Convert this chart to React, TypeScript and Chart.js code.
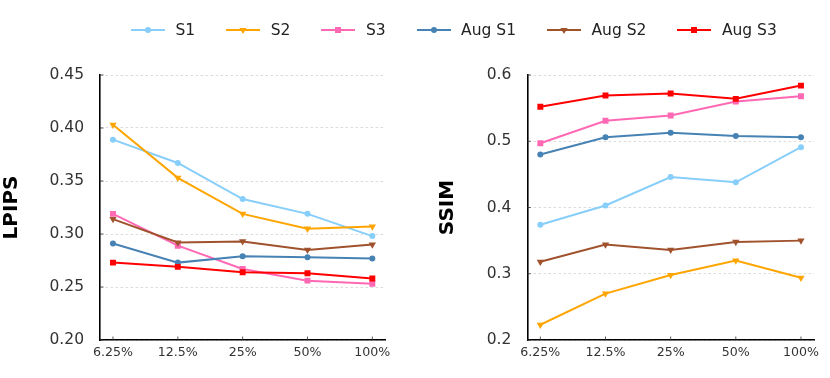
import React, { useEffect, useRef } from 'react';
import { Chart, registerables } from 'chart.js';

Chart.register(...registerables);

// ---------- data ----------
const categories = ['6.25%', '12.5%', '25%', '50%', '100%'];
const seriesNames = ['S1', 'S2', 'S3', 'Aug S1', 'Aug S2', 'Aug S3'];

const lpipsS1 = [0.389, 0.367, 0.333, 0.319, 0.298];
const lpipsS2 = [0.403, 0.353, 0.319, 0.305, 0.307];
const lpipsS3 = [0.319, 0.289, 0.267, 0.256, 0.253];
const lpipsAugS1 = [0.291, 0.273, 0.279, 0.278, 0.277];
const lpipsAugS2 = [0.314, 0.292, 0.293, 0.285, 0.290];
const lpipsAugS3 = [0.273, 0.269, 0.264, 0.263, 0.258];

const ssimS1 = [0.374, 0.403, 0.446, 0.438, 0.491];
const ssimS2 = [0.223, 0.270, 0.298, 0.320, 0.294];
const ssimS3 = [0.497, 0.531, 0.539, 0.560, 0.568];
const ssimAugS1 = [0.480, 0.506, 0.513, 0.508, 0.506];
const ssimAugS2 = [0.318, 0.344, 0.336, 0.348, 0.350];
const ssimAugS3 = [0.552, 0.569, 0.572, 0.564, 0.584];

const lpipsTicks = [0.2, 0.25, 0.3, 0.35, 0.4, 0.45];
const ssimTicks = [0.2, 0.3, 0.4, 0.5, 0.6];

// ---------- styles ----------
const colors = ['#87CEFA', '#FFA500', '#FF69B4', '#4682B4', '#A0522D', '#FF0000'];
const markers = ['circle', 'triangle', 'rect', 'circle', 'triangle', 'rect'];
const FONT = '"DejaVu Sans", "Liberation Sans", sans-serif';

const innerTicks = {
  id: 'innerTicks',
  beforeDatasetsDraw(chart: any) {
    const { ctx, scales, chartArea } = chart;
    ctx.save();
    ctx.strokeStyle = '#333';
    ctx.lineWidth = 0.8;
    const x = scales.x;
    x.ticks.forEach((t: any) => {
      const px = x.getPixelForValue(t.value);
      ctx.beginPath();
      ctx.moveTo(px, chartArea.bottom);
      ctx.lineTo(px, chartArea.bottom - 3.5);
      ctx.stroke();
    });
    const y = scales.y;
    y.ticks.forEach((t: any) => {
      const py = y.getPixelForValue(t.value);
      ctx.beginPath();
      ctx.moveTo(chartArea.left, py);
      ctx.lineTo(chartArea.left + 3.5, py);
      ctx.stroke();
    });
    ctx.restore();
  },
};

function buildConfig(
  series: number[][],
  yTicks: number[],
  decimals: number,
  title: string,
  padding: { left: number; right: number; top: number; bottom: number },
  yWidth: number
): any {
  const datasets = series.map((vals, i) => ({
    label: seriesNames[i],
    data: vals.map((v, j) => ({ x: j, y: v })),
    borderColor: colors[i],
    backgroundColor: colors[i],
    pointBackgroundColor: colors[i],
    pointBorderColor: colors[i],
    pointBorderWidth: 0,
    pointStyle: markers[i],
    pointRotation: markers[i] === 'triangle' ? 180 : 0,
    pointRadius: markers[i] === 'circle' ? 3 : markers[i] === 'rect' ? 4.2 : 4.2,
    borderWidth: 2,
    tension: 0,
    fill: false,
    order: series.length - i,
  }));
  return {
    type: 'line',
    data: { datasets },
    plugins: [innerTicks],
    options: {
      responsive: false,
      animation: false,
      events: [],
      layout: { padding },
      plugins: { legend: { display: false }, tooltip: { enabled: false } },
      scales: {
        x: {
          type: 'linear',
          min: -0.2,
          max: categories.length - 1 + 0.2,
          afterBuildTicks: (s: any) => {
            s.ticks = categories.map((_, i) => ({ value: i }));
          },
          afterFit: (s: any) => {
            s.height = 30;
          },
          grid: { display: false, drawTicks: false },
          border: { display: true, color: '#000', width: 1.6 },
          ticks: {
            padding: 5,
            color: '#333',
            font: { family: FONT, size: 12.6 },
            callback: (v: any) => categories[Math.round(v)] ?? '',
            maxRotation: 0,
            autoSkip: false,
          },
        },
        y: {
          type: 'linear',
          min: yTicks[0],
          max: yTicks[yTicks.length - 1],
          afterBuildTicks: (s: any) => {
            s.ticks = yTicks.map((v) => ({ value: v }));
          },
          afterFit: (s: any) => {
            s.width = yWidth;
          },
          grid: {
            display: true,
            drawTicks: false,
            color: 'rgba(0,0,0,0.18)',
            lineWidth: 0.8,
          },
          border: { display: true, color: '#000', width: 1.6, dash: [2.5, 2.5] },
          ticks: {
            padding: 16,
            color: '#333',
            font: { family: FONT, size: 15.5 },
            callback: (v: any) => Number(v).toFixed(decimals),
          },
          title: {
            display: true,
            text: title,
            color: '#000',
            font: { family: FONT, size: 20, weight: 'bold' },
            padding: { top: 0, bottom: 0 },
          },
        },
      },
    },
  };
}

function ChartCanvas({ config }: { config: () => any }) {
  const ref = useRef<HTMLCanvasElement | null>(null);
  useEffect(() => {
    if (!ref.current) return;
    const chart = new Chart(ref.current, config());
    return () => chart.destroy();
  }, []);
  return (
    <canvas
      ref={ref}
      width={830}
      height={378}
      style={{ position: 'absolute', left: 0, top: 0, width: 830, height: 378 }}
    />
  );
}

function LegendMarker({ i }: { i: number }) {
  const c = colors[i];
  const m = markers[i];
  return (
    <svg width={34} height={20} style={{ display: 'block' }}>
      <line x1={0} y1={10} x2={34} y2={10} stroke={c} strokeWidth={2} />
      {m === 'circle' && <circle cx={17} cy={10} r={3} fill={c} />}
      {m === 'rect' && <rect x={14} y={7} width={6} height={6} fill={c} />}
      {m === 'triangle' && <polygon points="13.4,8 20.6,8 17,14" fill={c} />}
    </svg>
  );
}

export default function App() {
  const lpipsCfg = () =>
    buildConfig(
      [lpipsS1, lpipsS2, lpipsS3, lpipsAugS1, lpipsAugS2, lpipsAugS3],
      lpipsTicks,
      2,
      'LPIPS',
      { left: 0, right: 830 - 385.3, top: 75, bottom: 378 - 340 - 30 },
      100
    );
  const ssimCfg = () =>
    buildConfig(
      [ssimS1, ssimS2, ssimS3, ssimAugS1, ssimAugS2, ssimAugS3],
      ssimTicks,
      1,
      'SSIM',
      { left: 435.5, right: 830 - 814, top: 75, bottom: 378 - 340 - 30 },
      527.3 - 435.5
    );
  return (
    <div
      style={{
        position: 'absolute',
        left: 0,
        top: 0,
        width: 830,
        height: 378,
        background: '#fff',
        overflow: 'hidden',
      }}
    >
      <ChartCanvas config={lpipsCfg} />
      <ChartCanvas config={ssimCfg} />
      <div
        style={{
          position: 'absolute',
          left: 131,
          top: 20,
          height: 20,
          display: 'flex',
          alignItems: 'center',
          gap: 31,
          fontFamily: FONT,
          fontSize: 15.5,
          color: '#222',
          whiteSpace: 'nowrap',
        }}
      >
        {seriesNames.map((n, i) => (
          <div key={n} style={{ display: 'flex', alignItems: 'center' }}>
            <LegendMarker i={i} />
            <span style={{ marginLeft: 10.5, lineHeight: '20px' }}>{n}</span>
          </div>
        ))}
      </div>
    </div>
  );
}
